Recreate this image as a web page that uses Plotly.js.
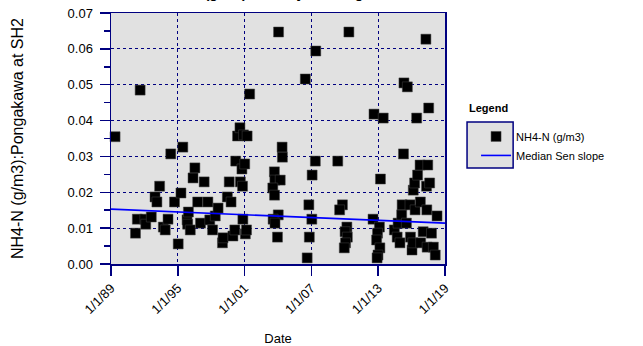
<!DOCTYPE html>
<html>
<head>
<meta charset="utf-8">
<script src="https://cdn.plot.ly/plotly-3.0.1.min.js"></script>
<style>html,body{margin:0;padding:0;background:#fff;}#chart{width:643px;height:346px;}</style>
</head>
<body>
<div id="chart"></div>
<script>
// Sample dates and NH4-N values (g/m3)
var sampleDates = [
  '1989-05-15','1991-08-15','1991-03-15','1991-05-15','1992-01-15','1992-02-15','1992-08-15','1992-12-15',
  '1993-02-15','1993-05-15','1993-09-15','1993-11-15','1994-02-15','1994-05-15','1994-09-15','1995-01-15',
  '1995-04-15','1995-06-15','1995-11-01','1995-11-20','1995-12-15','1996-02-15','1996-05-15','1996-07-15',
  '1996-10-15','1997-01-15','1997-05-15','1997-09-15','1997-11-15','1998-02-15','1998-05-15','1998-08-15',
  '1999-01-05','1999-01-25','1999-06-15','1999-08-15','1999-10-15','1999-12-15','2000-02-15','2000-03-15',
  '2000-05-15','2000-08-01','2000-08-15','2000-10-05','2000-10-25','2000-11-05','2000-11-25','2001-01-05',
  '2001-01-25','2001-03-05','2001-03-25','2001-06-15',
  '2003-09-05','2003-09-20','2004-03-15','2003-07-15','2003-09-10','2004-01-10','2003-07-25','2003-09-25',
  '2003-12-15','2004-01-20','2004-05-15','2004-05-25',
  '2006-06-15','2006-08-15','2006-10-10','2006-10-25','2007-01-15','2007-01-25','2007-05-10','2007-05-25',
  '2009-05-15','2009-10-15','2009-07-15','2010-03-10','2010-01-10','2010-03-25','2010-01-25','2009-12-15',
  '2010-05-15',
  '2012-07-15','2012-08-15','2013-02-10','2012-12-10','2012-11-10','2013-02-25','2012-12-25','2012-11-25',
  '2013-03-15','2013-06-15',
  '2014-06-15','2014-09-15','2014-12-15','2014-10-15','2015-02-10','2015-02-25','2015-07-15','2015-04-10',
  '2015-04-25','2015-08-15','2015-11-10','2015-11-25','2016-01-15','2016-02-10','2016-02-25','2016-04-10',
  '2016-04-25','2016-06-15','2016-07-15','2016-10-05','2016-10-15','2016-10-25','2017-01-15','2017-04-15',
  '2017-05-05','2017-05-15','2017-05-25','2017-06-15','2017-07-15','2017-08-15','2017-10-15','2017-12-15',
  '2018-02-15','2018-04-15'
];
var nh4Values = [
  0.0355,0.0485,0.0086,0.0125,0.0125,0.0111,0.0131,0.0187,
  0.0173,0.0217,0.0103,0.0095,0.0125,0.0307,0.0173,0.0056,
  0.0198,0.0326,0.0123,0.0111,0.0145,0.0095,0.0240,0.0268,
  0.0173,0.0114,0.0229,0.0173,0.0123,0.0095,0.0134,0.0156,
  0.0059,0.0073,0.0187,0.0229,0.0173,0.0078,0.0095,0.0287,
  0.0357,0.0380,0.0229,0.0265,0.0217,0.0125,0.0360,0.0279,
  0.0084,0.0095,0.0357,0.0474,
  0.0257,0.0234,0.0234,0.0212,0.0192,0.0137,0.0125,0.0114,
  0.0075,0.0647,0.0326,0.0298,
  0.0516,0.0017,0.0165,0.0075,0.0125,0.0248,0.0287,0.0594,
  0.0287,0.0165,0.0151,0.0103,0.0090,0.0075,0.0059,0.0045,
  0.0647,
  0.0125,0.0418,0.0103,0.0086,0.0067,0.0045,0.0025,0.0017,
  0.0237,0.0407,
  0.0095,0.0075,0.0059,0.0114,0.0137,0.0165,0.0114,0.0307,
  0.0505,0.0494,0.0165,0.0075,0.0039,0.0059,0.0206,0.0226,
  0.0151,0.0407,0.0248,0.0276,0.0173,0.0059,0.0090,0.0627,
  0.0217,0.0151,0.0047,0.0276,0.0435,0.0226,0.0086,0.0047,
  0.0025,0.0134
];
// Median Sen slope line end points
var senDates = ['1989-01-01','2019-01-01'];
var senValues = [0.0153, 0.0114];

var chartTitle = 'NH4-N (g/m3) Monthly Readings';
var navy = '#000080';
var font = 'Arial, "Liberation Sans", sans-serif';

var traces = [
  {x: sampleDates, y: nh4Values, type: 'scatter', mode: 'markers', name: 'NH4-N (g/m3)',
   marker: {symbol: 'square', size: 10, color: '#000000', line: {color: '#444444', width: 0.5}},
   cliponaxis: false, hoverinfo: 'x+y'},
  {x: senDates, y: senValues, type: 'scatter', mode: 'lines', name: 'Median Sen slope',
   line: {color: '#0000ff', width: 1.6}}
];

var layout = {
  width: 643, height: 346,
  margin: {l: 111, r: 198, t: 13, b: 82, pad: 0},
  paper_bgcolor: '#ffffff', plot_bgcolor: '#e1e1e1',
  font: {family: font, size: 13, color: '#000'},
  showlegend: true,
  xaxis: {
    type: 'date', range: ['1989-01-01', '2019-01-01'], tick0: '1989-01-01', dtick: 'M72',
    tickformat: '%-m/%-d/%y', tickangle: -45, ticks: 'outside', ticklen: 10, tickwidth: 1.5, tickcolor: navy,
    showline: true, linecolor: navy, linewidth: 1.5, mirror: true,
    showgrid: true, gridcolor: navy, griddash: 'dot', gridwidth: 1,
    zeroline: false, automargin: false,
    tickfont: {family: font, size: 13, color: '#000'},
    title: {text: 'Date', font: {family: font, size: 13, color: '#000'}, standoff: 27}
  },
  yaxis: {
    range: [0, 0.07], dtick: 0.01, tick0: 0, tickformat: '.2f',
    ticks: 'outside', ticklen: 10, tickwidth: 1.5, tickcolor: navy, ticklabelstandoff: 4,
    minor: {dtick: 0.005, ticks: 'outside', ticklen: 6, tickcolor: navy, tickwidth: 1.5, showgrid: false},
    showline: true, linecolor: navy, linewidth: 1.5, mirror: true,
    showgrid: true, gridcolor: navy, griddash: 'dot', gridwidth: 1,
    zeroline: false, automargin: false,
    tickfont: {family: font, size: 13, color: '#000'},
    title: {text: 'NH4-N (g/m3):Pongakawa at SH2', font: {family: font, size: 16, color: '#000'}, standoff: 40}
  },
  legend: {
    x: 1.093, xanchor: 'left', y: 0.566, yanchor: 'top',
    bgcolor: 'rgba(0,0,0,0)', borderwidth: 0,
    font: {family: font, size: 11, color: '#000'},
    itemclick: false, tracegroupgap: 0
  },
  shapes: [
    {type: 'rect', xref: 'paper', yref: 'paper', x0: 1.066, x1: 1.204, y0: 0.382, y1: 0.566,
     fillcolor: '#e1e1e1', line: {color: navy, width: 1.5}, layer: 'below'}
  ],
  annotations: [
    {text: '<b>' + chartTitle + '</b>', xref: 'paper', yref: 'paper', x: 0.135, xanchor: 'left',
     y: 1.0797, yanchor: 'middle', showarrow: false, font: {family: font, size: 14, color: '#000'}},
    {text: '<b>Legend</b>', xref: 'paper', yref: 'paper', x: 1.066, xanchor: 'left', y: 0.623, yanchor: 'middle',
     showarrow: false, font: {family: font, size: 11, color: '#000'}}
  ]
};

Plotly.newPlot('chart', traces, layout, {displayModeBar: false, staticPlot: true});
</script>
</body>
</html>
